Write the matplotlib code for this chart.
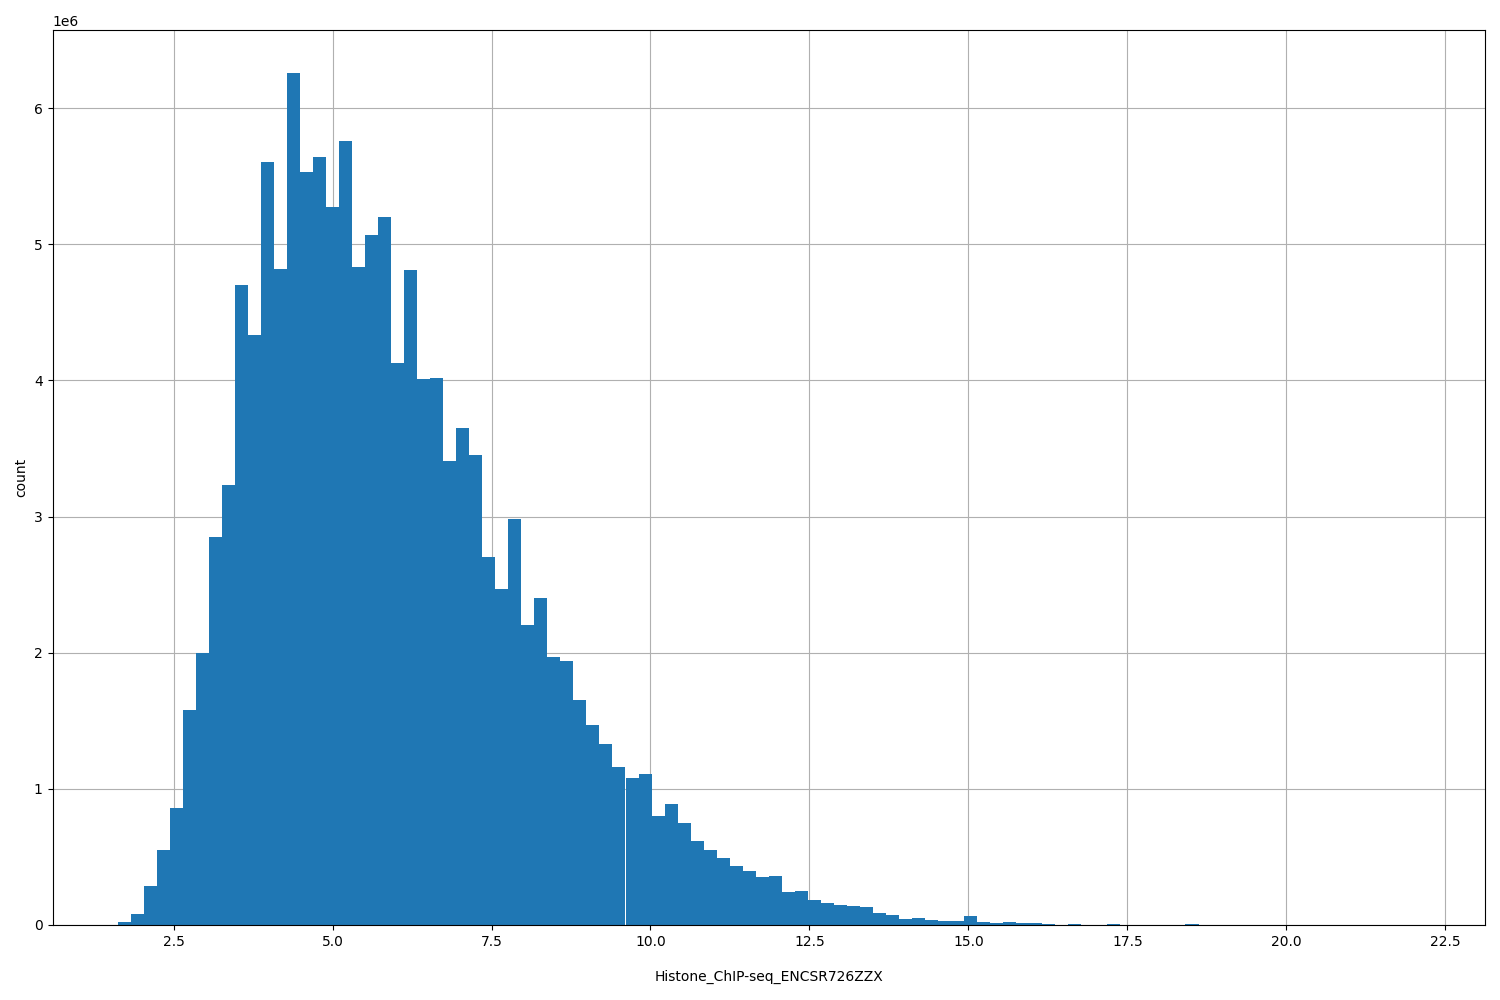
import matplotlib
matplotlib.use("Agg")
import matplotlib.pyplot as plt
from matplotlib.ticker import MultipleLocator
import numpy as np

xmin, xmax, nbins = 1.62, 22.1, 100
counts_m = [0.02,0.08,0.29,0.55,0.86,1.58,2.0,2.85,3.23,4.70,
            4.33,5.60,4.82,6.26,5.53,5.64,5.27,5.76,4.83,5.07,
            5.20,4.13,4.81,4.01,4.02,3.41,3.65,3.45,2.70,2.47,
            2.98,2.20,2.40,1.97,1.94,1.65,1.47,1.33,1.16,1.08,
            1.11,0.80,0.89,0.75,0.62,0.55,0.49,0.43,0.40,0.35,
            0.36,0.24,0.25,0.18,0.165,0.15,0.14,0.13,0.09,0.07,
            0.045,0.055,0.04,0.03,0.03,0.065,0.025,0.015,0.02,0.015,
            0.012,0.008,0.003,0.008,0.002,0.002,0.008,0.002,0.001,0.001,
            0.001,0.001,0.006,0.001,0.001,0.0005,0.0005,0.0005,0.0005,0.0005,
            0.0005,0.0005,0.0005,0.0005,0.0005,0.0005,0.0005,0.0005,0.0005,0.0005]
counts = np.array(counts_m) * 1e6
edges = np.linspace(xmin, xmax, nbins + 1)

fig, ax = plt.subplots(figsize=(15, 10), dpi=100)
ax.hist(edges[:-1], bins=edges, weights=counts, color="#1f77b4", zorder=2)
ax.grid(True, color="#b0b0b0", zorder=0)
ax.set_axisbelow(True)
ax.xaxis.set_major_locator(MultipleLocator(2.5))
ax.set_xlabel("Histone_ChIP-seq_ENCSR726ZZX", labelpad=15)
ax.set_ylabel("count")
fig.subplots_adjust(left=0.035, right=0.99, top=0.97, bottom=0.075)
fig.savefig("out.png")
